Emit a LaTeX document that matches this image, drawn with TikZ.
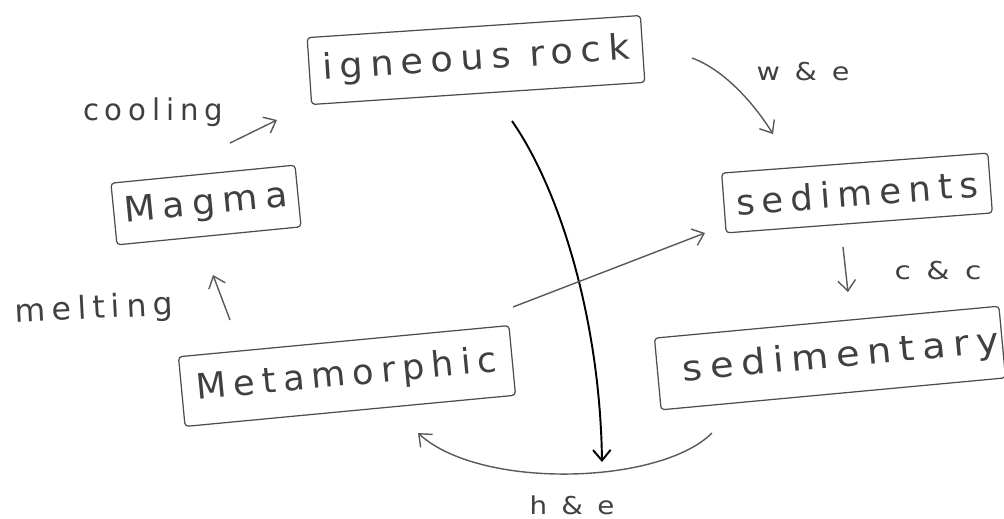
\documentclass[tikz,border=0pt]{standalone}
\usepackage{fontspec}
\usepackage{graphicx}
\usetikzlibrary{arrows.meta}
\newfontfamily\handfont[LetterSpace=20]{DejaVu Sans}
\newcommand\fw[2]{\resizebox{#1}{\height}{#2}}
\begin{document}
\begin{tikzpicture}[x=0.02cm,y=-0.02cm,
  box/.style={draw=black!70, line width=0.7pt, rounded corners=2pt, inner sep=0pt,
    font=\handfont\fontsize{20}{24}\selectfont, text=black!75},
  lbl/.style={inner sep=0pt, text=black!75},
  arr/.style={draw=black!65, line width=0.8pt, -{Straight Barb[length=6pt,width=10pt]}},
  main/.style={draw=black, line width=1.1pt, -{Straight Barb[length=6pt,width=10pt]}},
]
\useasboundingbox (0,0) rectangle (1004,518);

% boxes
\node[box, rotate=3.8, minimum width=6.68cm, minimum height=1.34cm] (ign) at (476,60) {\fw{6.16cm}{igneous rock}};
\node[box, rotate=5.6, minimum width=3.7cm, minimum height=1.24cm] (mag) at (206,205) {\fw{3.28cm}{Magma}};
\node[box, rotate=4.3, minimum width=5.34cm, minimum height=1.2cm] (sed) at (857,193) {\fw{4.84cm}{sediments}};
\node[box, rotate=5.3, minimum width=6.92cm, minimum height=1.44cm] (sdy) at (830,358) {\hspace*{0.44cm}\fw{6.36cm}{sedimentary}};
\node[box, rotate=5.4, minimum width=6.64cm, minimum height=1.4cm] (met) at (347,376) {\fw{6.04cm}{Metamorphic}};

% labels
\node[lbl, font=\handfont\fontsize{17}{20}\selectfont] (lcool) at (153,112) {\fw{2.8cm}{cooling}};
\node[lbl, rotate=3, font=\handfont\fontsize{18}{21}\selectfont] (lmelt) at (94,310) {\fw{3.16cm}{melting}};
\node[lbl, font=\handfont\fontsize{14}{17}\selectfont] (lwe) at (803,72) {\fw{1.86cm}{w \& e}};
\node[lbl, font=\handfont\fontsize{14}{17}\selectfont] (lcc) at (938,271) {\fw{1.74cm}{c \& c}};
\node[lbl, font=\handfont\fontsize{14}{17}\selectfont] (lhe) at (572,505) {\fw{1.7cm}{h \& e}};

% connector ends
\coordinate (c1) at (230,143); \coordinate (c2) at (277,120);
\coordinate (m1) at (230,320); \coordinate (m2) at (213,275);
\coordinate (w1) at (692,58);  \coordinate (w2) at (773,134);
\coordinate (k1) at (843,247); \coordinate (k2) at (848,292);
\coordinate (b1) at (512,121); \coordinate (b2) at (602,462);
\coordinate (s1) at (513,307); \coordinate (s2) at (705,233);
\coordinate (h1) at (712,433); \coordinate (h2) at (418,433);

% connectors
\draw[arr] (c1) -- (c2);
\draw[arr] (m1) -- (m2);
\draw[arr] (w1) .. controls (725,70) and (755,105) .. (w2);
\draw[arr] (k1) -- (k2);
\draw[main] (b1) .. controls (560,190) and (600,320) .. (b2);
\draw[arr] (s1) -- (s2);
\draw[arr] (h1) .. controls (660,485) and (480,490) .. (h2);
\end{tikzpicture}
\end{document}
